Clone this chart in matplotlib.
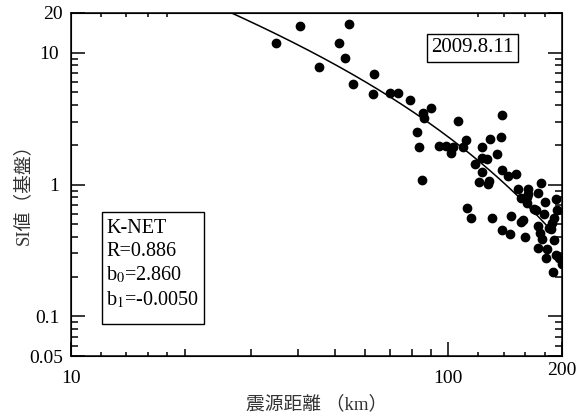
import matplotlib
matplotlib.use('Agg')
import matplotlib.pyplot as plt
from matplotlib.patches import Rectangle
import numpy as np

plt.rcParams['font.family'] = ['Liberation Serif', 'Noto Sans CJK JP']
plt.rcParams['mathtext.fontset'] = 'stix'

# observed points: hypocentral distance (km) vs SI value
dist = [35.0, 40.4, 54.5, 51.4, 53.1, 45.4, 55.8, 63.4, 63.0, 69.9,
        73.6, 78.9, 89.9, 85.8, 86.1, 82.7, 83.6, 84.9, 106.3, 138.5,
        137.7, 128.9, 111.4, 109.6, 94.4, 98.8, 101.4, 103.1, 123.1, 134.9,
        117.7, 122.6, 126.9, 122.4, 120.2, 127.9, 127.0, 138.5, 143.5, 150.9,
        153.0, 162.7, 175.8, 172.3, 155.6, 161.4, 180.5, 192.7, 193.9, 168.8,
        112.3, 114.6, 130.3, 138.5, 145.7, 146.4, 157.2, 155.6, 159.4, 170.6,
        179.6, 172.9, 175.3, 177.2, 184.9, 187.7, 190.6, 190.0, 172.3, 182.4,
        181.3, 192.7, 196.9, 199.9, 189.8, 161.4, 162.1, 186.9]
si = [11.8, 15.8, 16.5, 11.9, 9.1, 7.8, 5.82, 6.91, 4.89, 4.95,
      4.93, 4.40, 3.79, 3.49, 3.20, 2.49, 1.92, 1.09, 3.02, 3.35,
      2.28, 2.23, 2.17, 1.93, 1.95, 1.95, 1.74, 1.93, 1.92, 1.69,
      1.44, 1.59, 1.57, 1.24, 1.04, 1.07, 1.01, 1.28, 1.16, 1.21,
      0.917, 0.928, 1.02, 0.865, 0.793, 0.727, 0.737, 0.779, 0.636, 0.654,
      0.658, 0.559, 0.557, 0.451, 0.424, 0.572, 0.537, 0.515, 0.400, 0.639,
      0.593, 0.482, 0.431, 0.386, 0.470, 0.513, 0.553, 0.378, 0.331, 0.322,
      0.278, 0.292, 0.277, 0.248, 0.217, 0.800, 0.840, 0.456]

# regression: log SI = b0 + b1*X - log X
b0 = 2.860
b1 = -0.0050
R = 0.886
fit_x = np.logspace(1, np.log10(185), 200)
fit_y = 10 ** (b0 + b1 * fit_x - np.log10(fit_x))

fig = plt.figure(figsize=(5.81, 4.18), dpi=100)
ax = fig.add_axes([0.1222, 0.1483, 0.8451, 0.8206])

ax.plot(fit_x, fit_y, color='black', lw=1.1, zorder=2)
ax.plot(dist, si, 'o', color='black', ms=6, mec='black', zorder=3)

ax.set_xscale('log')
ax.set_yscale('log')
ax.set_xlim(10, 200)
ax.set_ylim(0.05, 20)

ax.set_xticks([10, 100, 200], ['10', '100', '200'])
ax.set_xticks([20, 30, 40, 50, 60, 70, 80, 90], minor=True)
ax.set_xticklabels([], minor=True)
ax.set_yticks([0.05, 0.1, 1, 10, 20], ['0.05', '0.1', '1', '10', '20'])
ax.set_yticks([0.06, 0.07, 0.08, 0.09, 0.2, 0.3, 0.4, 0.5, 0.6, 0.7, 0.8, 0.9,
               2, 3, 4, 5, 6, 7, 8, 9], minor=True)
ax.set_yticklabels([], minor=True)

ax.tick_params(which='both', direction='in', top=True, right=True, width=1.1,
               labelsize=14)
ax.tick_params(which='major', length=10)
ax.tick_params(which='minor', length=5)
ax.tick_params(axis='x', which='major', pad=10)
ax.tick_params(axis='y', which='major', pad=8.5)
for s in ax.spines.values():
    s.set_linewidth(1.1)

# extra short ticks (12-18, 120-180)
ax2 = ax.twiny()
ax2.set_xscale('log')
ax2.set_xlim(10, 200)
ax2.set_xticks([12, 14, 16, 18, 120, 140, 160, 180])
ax2.xaxis.set_minor_locator(matplotlib.ticker.NullLocator())
ax2.tick_params(which='both', direction='in', top=True, bottom=True,
                labeltop=False, labelbottom=False, length=3, width=1.1)

xl = ax.get_xticklabels()
xl[2].set_y(0.023)
yl = ax.get_yticklabels()
yl[0].set_x(0.008)
yl[4].set_x(0.008)

ax.set_xlabel('震源距離 （km）', fontsize=13.5, color='#333333')
ax.set_ylabel('SI値（基盤）', fontsize=13.5, color='#333333')
ax.xaxis.set_label_coords(0.5, -0.115)
ax.yaxis.set_label_coords(-0.079, 0.484)

ax.text(0.8177, 0.898, '2009.8.11', transform=ax.transAxes, fontsize=15,
        ha='center', va='center',
        bbox=dict(boxstyle='square,pad=0.2', fc='white', ec='black', lw=1.0))

ax.add_patch(Rectangle((0.0625, 0.0933), 0.2084, 0.3265, transform=ax.transAxes,
                       fc='white', ec='black', lw=1.0, zorder=4))
ax.text(0.0713, 0.400, 'K-NET\nR=%.3f\nb$_0$=%.3f\nb$_1$=%.4f' % (R, b0, b1),
        transform=ax.transAxes, fontsize=14.5, ha='left', va='top',
        linespacing=1.27, zorder=5)

fig.savefig('out.png', dpi=100)
